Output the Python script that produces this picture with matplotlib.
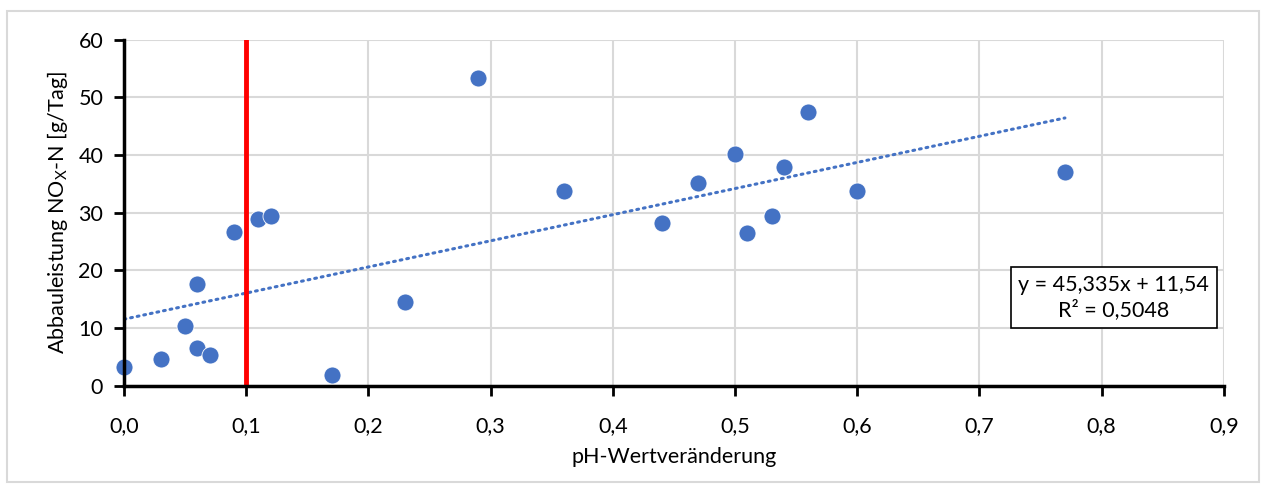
import numpy as np
import matplotlib.pyplot as plt
import matplotlib.patches as mpatches

# pH change vs. NOx-N removal
ph_change = [0.00, 0.03, 0.05, 0.06, 0.06, 0.07, 0.09, 0.11, 0.12, 0.17, 0.23,
             0.29, 0.36, 0.44, 0.47, 0.50, 0.51, 0.53, 0.54, 0.56, 0.60, 0.77]
abbau = [3.3, 4.7, 10.3, 17.7, 6.5, 5.3, 26.6, 28.9, 29.4, 1.9, 14.6,
         53.4, 33.7, 28.2, 35.1, 40.2, 26.5, 29.5, 38.0, 47.4, 33.8, 37.1]
slope = 45.335
intercept = 11.54
r2 = 0.5048
threshold = 0.1

xticks = np.arange(0, 0.91, 0.1)
yticks = np.arange(0, 61, 10)

plt.rcParams['font.family'] = ['Lato', 'DejaVu Sans']
blue = '#4472C4'
fs = 15.5

fig = plt.figure(figsize=(12.67, 4.92), dpi=100)
ax = fig.add_axes([0.0979, 0.216, 0.868, 0.703])

ax.grid(True, color='#D9D9D9', linewidth=1.5)
ax.set_axisbelow(True)

# trend line
xt = np.array([min(ph_change), max(ph_change)])
ax.plot(xt, slope * xt + intercept, linestyle=(0, (0.6, 1.6)), color=blue,
        linewidth=2.2, dash_capstyle='round', zorder=3)

ax.scatter(ph_change, abbau, s=150, color=blue, edgecolors='white', linewidths=0.6, zorder=4, clip_on=False)

ax.plot([threshold, threshold], [0, 60], color='#FF0000', linewidth=3.5, zorder=5)

ax.set_xlim(0, 0.9)
ax.set_ylim(0, 60)
ax.set_xticks(xticks)
ax.set_xticklabels([f'{v:.1f}'.replace('.', ',') for v in xticks])
ax.set_yticks(yticks)
ax.tick_params(axis='both', labelsize=fs, width=2, length=7, direction='out', color='black')
ax.tick_params(axis='x', pad=15)
ax.tick_params(axis='y', pad=8)
for s in ['top', 'right']:
    ax.spines[s].set_visible(False)
for s in ['left', 'bottom']:
    ax.spines[s].set_linewidth(2.5)
    ax.spines[s].set_zorder(6)

ax.set_xlabel('pH-Wertveränderung', fontsize=fs, labelpad=8)
ax.set_ylabel('Abbauleistung NO$_\\mathregular{X}$-N [g/Tag]', fontsize=fs, labelpad=6)

ax.text(0.81, 15.3, f'y = {slope:.3f}x + {intercept:.2f}\nR² = {r2:.4f}'.replace('.', ','),
        ha='center', va='center', fontsize=fs, linespacing=1.25,
        bbox=dict(boxstyle='square,pad=0.35', facecolor='white', edgecolor='black', linewidth=1.2),
        zorder=7)

fig.patches.append(mpatches.Rectangle((0.0055, 0.02), 0.988, 0.958, transform=fig.transFigure,
                                      fill=False, edgecolor='#D9D9D9', linewidth=1.5))

fig.savefig('out.png', dpi=100)
